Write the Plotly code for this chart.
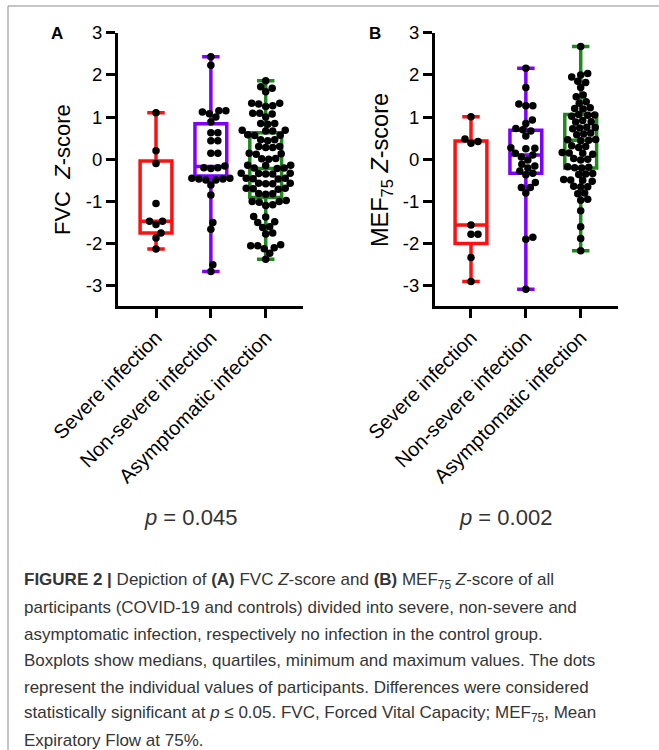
import numpy as np
import plotly.graph_objects as go

# ---------------- data ----------------
categories = ["Severe infection", "Non-severe infection", "Asymptomatic infection"]
ytick_vals = [-3, -2, -1, 0, 1, 2, 3]
ytick_text = ["-3", "-2", "-1", "0", "1", "2", "3"]

fvc_severe = [1.10, 0.20, -0.10, -1.05, -1.47, -1.55, -1.47, -1.75, -1.87, -2.13]
fvc_nonsevere = [2.43, 2.23, 1.15, 1.15, 1.12, 1.08, 1.00, 0.88, 0.63, 0.63, 0.44, 0.44,
                 0.14, 0.14, -0.16, -0.20, -0.20, -0.22, -0.45, -0.45, -0.47, -0.47,
                 -0.49, -0.49, -0.61, -0.85, -1.50, -1.66, -2.50, -2.66]
fvc_asym = [1.86, 1.72, 1.68, 1.60, 1.33, 1.33, 1.31, 1.27, 1.25, 1.09, 1.09, 1.07, 1.00,
            0.85, 0.85, 0.83, 0.69, 0.69, 0.67, 0.67, 0.58, 0.57, 0.56, 0.46, 0.46, 0.44,
            0.30, 0.30, 0.28, 0.28, 0.14, 0.13, 0.12, 0.02, 0.01, 0.00, -0.14, -0.14, -0.15,
            -0.21, -0.21, -0.22, -0.33, -0.33, -0.34, -0.35, -0.35, -0.45, -0.45, -0.46,
            -0.47, -0.57, -0.57, -0.58, -0.58, -0.69, -0.69, -0.70, -0.71, -0.81, -0.82,
            -0.83, -0.98, -1.00, -1.00, -1.02, -1.08, -1.10, -1.36, -1.37, -1.48, -1.50,
            -1.60, -1.62, -1.75, -1.77, -2.03, -2.05, -2.05, -2.10, -2.12, -2.23, -2.37]

mef_severe = [1.01, 0.48, 0.38, 0.42, -1.56, -1.78, -1.78, -2.33, -2.90]
mef_nonsevere = [2.16, 1.70, 1.31, 1.27, 1.27, 0.93, 0.85, 0.73, 0.70, 0.67, 0.55, 0.27,
                 0.26, 0.25, 0.14, 0.10, 0.05, -0.02, -0.12, -0.16, -0.21, -0.28, -0.33,
                 -0.37, -0.55, -0.67, -0.67, -0.80, -1.85, -1.90, -3.08]
mef_asym = [2.67, 2.03, 2.00, 1.95, 1.85, 1.82, 1.70, 1.52, 1.48, 1.36, 1.33, 1.22, 1.19,
            1.20, 1.06, 1.04, 1.05, 1.02, 0.92, 0.89, 0.88, 0.76, 0.74, 0.75, 0.72, 0.60,
            0.62, 0.58, 0.46, 0.45, 0.44, 0.47, 0.32, 0.30, 0.28, 0.16, 0.14, 0.15, 0.12,
            0.02, 0.00, -0.02, -0.18, -0.20, -0.21, -0.19, -0.34, -0.36, -0.35, -0.48,
            -0.50, -0.52, -0.49, -0.64, -0.66, -0.65, -0.80, -0.82, -0.95, -0.97, -1.22,
            -1.60, -1.88, -2.17]

# box statistics as drawn (min, Q1, median, Q3, max)
fvc_min = [-2.13, -2.66, -2.37]
fvc_q1 = [-1.75, -0.40, -0.91]
fvc_med = [-1.47, -0.17, -0.22]
fvc_q3 = [-0.04, 0.84, 0.63]
fvc_max = [1.10, 2.43, 1.86]

mef_min = [-2.90, -3.08, -2.17]
mef_q1 = [-2.00, -0.33, -0.21]
mef_med = [-1.56, 0.10, 0.45]
mef_q3 = [0.43, 0.69, 1.06]
mef_max = [1.01, 2.16, 2.67]

p_values = ["0.045", "0.002"]

# ---------------- styling / layout ----------------
W, H = 659, 750
group_colors = ["#ff1010", "#8000ff", "#1e8a1e"]
FONT = "Arial, Liberation Sans, Helvetica, sans-serif"

Y_TOP_PX, Y_BOT_PX = 32.7, 306.0
Y_RANGE = [-3.48, 3.0]
panels = [
    dict(xpx=(118, 303), xrange=[-0.693, 2.68], label="A", label_x=57,
         title="FVC  <i>Z</i>-score", title_x=62, title_size=22, p_x=190,
         groups=[fvc_severe, fvc_nonsevere, fvc_asym],
         stats=(fvc_min, fvc_q1, fvc_med, fvc_q3, fvc_max)),
    dict(xpx=(435, 618), xrange=[-0.656, 2.68], label="B", label_x=375,
         title="MEF<sub>75</sub> <i>Z</i>-score", title_x=381, title_size=23.5, p_x=505,
         groups=[mef_severe, mef_nonsevere, mef_asym],
         stats=(mef_min, mef_q1, mef_med, mef_q3, mef_max)),
]


def swarm_offsets(vals, kx, ky, d):
    """Greedy beeswarm: returns x offsets (data units) so dots do not overlap."""
    vals = np.asarray(vals, dtype=float)
    order = np.argsort(vals)
    placed = []
    offs = np.zeros(len(vals))
    for i in order:
        y = vals[i] * ky
        chosen = None
        step = 0
        while chosen is None:
            cands = [0.0] if step == 0 else [step * 0.5, -step * 0.5]
            for x in cands:
                if all((x - px) ** 2 + (y - py) ** 2 >= d * d for px, py in placed):
                    chosen = x
                    break
            step += 1
        placed.append((chosen, y))
        offs[i] = chosen / kx
    return offs


fig = go.Figure()
ydom = [1 - Y_BOT_PX / H, 1 - Y_TOP_PX / H]
ky = (Y_BOT_PX - Y_TOP_PX) / (Y_RANGE[1] - Y_RANGE[0])

for k, pan in enumerate(panels):
    xa = "x" if k == 0 else "x2"
    ya = "y" if k == 0 else "y2"
    kx = (pan["xpx"][1] - pan["xpx"][0]) / (pan["xrange"][1] - pan["xrange"][0])
    mn, q1, md, q3, mx = pan["stats"]
    for g, vals in enumerate(pan["groups"]):
        fig.add_trace(go.Box(
            x=[g], q1=[q1[g]], median=[md[g]], q3=[q3[g]],
            lowerfence=[mn[g]], upperfence=[mx[g]],
            width=0.58, whiskerwidth=0.55, boxpoints=False,
            line=dict(color=group_colors[g], width=3.5),
            fillcolor="rgba(0,0,0,0)", xaxis=xa, yaxis=ya,
            showlegend=False, hoverinfo="skip"))
        offs = swarm_offsets(vals, kx, ky, 7.0)
        fig.add_trace(go.Scatter(
            x=g + offs, y=vals, mode="markers",
            marker=dict(color="black", size=7.5, line=dict(width=0)),
            xaxis=xa, yaxis=ya, showlegend=False, hoverinfo="skip"))

    xdom = [pan["xpx"][0] / W, pan["xpx"][1] / W]
    axis_common = dict(showline=True, linecolor="black", linewidth=3,
                       ticks="outside", ticklen=9, tickwidth=3, tickcolor="black",
                       showgrid=False, zeroline=False, fixedrange=True,
                       automargin=False)
    fig.update_layout(**{
        ("xaxis" if k == 0 else "xaxis2"): dict(
            domain=xdom, range=pan["xrange"], anchor=ya,
            tickvals=[0, 1, 2], ticktext=categories, tickangle=-45,
            tickfont=dict(family=FONT, size=20, color="black"), **axis_common),
        ("yaxis" if k == 0 else "yaxis2"): dict(
            domain=ydom, range=Y_RANGE, anchor=xa,
            tickvals=ytick_vals, ticktext=ytick_text,
            tickfont=dict(family=FONT, size=18.5, color="black"), **axis_common),
    })
    # panel label
    fig.add_annotation(x=pan["label_x"] / W, y=1 - 33 / H, xref="paper", yref="paper",
                       xanchor="center", yanchor="middle",
                       text="<b>%s</b>" % pan["label"], showarrow=False,
                       font=dict(family=FONT, size=17, color="black"))
    # y title
    fig.add_annotation(x=pan["title_x"] / W, y=1 - 170 / H, xref="paper", yref="paper",
                       xanchor="center", yanchor="middle",
                       text=pan["title"], textangle=-90, showarrow=False,
                       font=dict(family=FONT, size=pan["title_size"], color="black"))
    # p value
    fig.add_annotation(x=pan["p_x"] / W, y=1 - 517 / H, xref="paper", yref="paper",
                       xanchor="center", yanchor="middle",
                       text="<i>p</i> = %s" % p_values[k], showarrow=False,
                       font=dict(family=FONT, size=22, color="#333333"))

caption_lines = [
    "<b>FIGURE 2 |</b> Depiction of <b>(A)</b> FVC <i>Z</i>-score and <b>(B)</b> MEF<sub>75</sub> <i>Z</i>-score of all",
    "participants (COVID-19 and controls) divided into severe, non-severe and",
    "asymptomatic infection, respectively no infection in the control group.",
    "Boxplots show medians, quartiles, minimum and maximum values. The dots",
    "represent the individual values of participants. Differences were considered",
    "statistically significant at <i>p</i> ≤ 0.05. FVC, Forced Vital Capacity; MEF<sub>75</sub>, Mean",
    "Expiratory Flow at 75%.",
]
for i, line in enumerate(caption_lines):
    fig.add_annotation(x=22 / W, y=1 - (581 + 26.5 * i) / H, xref="paper", yref="paper",
                       xanchor="left", yanchor="middle", text=line, showarrow=False,
                       font=dict(family=FONT, size=17, color="#353535"))

# figure frame (left and top edges)
fig.add_shape(type="line", xref="paper", yref="paper", x0=8 / W, x1=8 / W,
              y0=0, y1=1 - 6 / H, line=dict(color="#8c8c8c", width=1))
fig.add_shape(type="line", xref="paper", yref="paper", x0=8 / W, x1=1,
              y0=1 - 6 / H, y1=1 - 6 / H, line=dict(color="#8c8c8c", width=1))

fig.update_layout(width=W, height=H, margin=dict(l=0, r=0, t=0, b=0, autoexpand=False),
                  template="none",
                  paper_bgcolor="white", plot_bgcolor="white",
                  font=dict(family=FONT, color="black"))

fig.write_html("out.html",
               config={"displayModeBar": False, "staticPlot": True},
               post_script="document.body.style.margin='0';"
                           "document.body.style.overflow='hidden';")
